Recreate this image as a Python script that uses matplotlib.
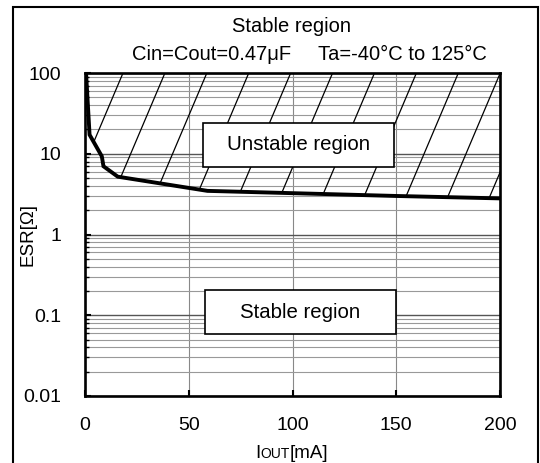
import numpy as np
import matplotlib
matplotlib.use('Agg')
from matplotlib import pyplot as plt
from matplotlib.patches import Rectangle
from matplotlib.offsetbox import TextArea, HPacker, AnnotationBbox
from matplotlib.ticker import LogLocator, NullFormatter

plt.rcParams['font.family'] = ['Liberation Sans', 'DejaVu Sans']

# boundary curve
iout = [0.5, 2.2, 8.1, 8.9, 15.8, 59.0, 100.0, 150.0, 200.0]
esr = [100.0, 17.2, 9.3, 7.0, 5.2, 3.47, 3.25, 3.0, 2.8]

x_ticks = [0, 50, 100, 150, 200]
y_ticks = [0.01, 0.1, 1, 10, 100]
y_labels = ['0.01', '0.1', '1', '10', '100']

W, H = 540, 463
fig = plt.figure(figsize=(W/100, H/100), dpi=100)
ax = fig.add_axes([85/W, 1-396/H, 415/W, 323/H])

ax.set_xlim(0, 200)
ax.set_yscale('log')
ax.set_ylim(0.01, 100)

ax.set_xticks(x_ticks)
ax.set_yticks(y_ticks)
ax.set_yticklabels(y_labels)
ax.yaxis.set_minor_locator(LogLocator(base=10, subs=np.arange(2, 10)))
ax.yaxis.set_minor_formatter(NullFormatter())
ax.tick_params(axis='both', which='major', direction='in', length=4, width=1.5, labelsize=14)
ax.tick_params(axis='x', which='major', pad=15)
ax.tick_params(axis='y', which='major', pad=17)
ax.tick_params(axis='y', which='minor', direction='in', length=3, width=1)
ax.tick_params(top=False, right=False)

ax.grid(True, which='major', axis='y', color='#555555', lw=1.0)
ax.grid(True, which='minor', axis='y', color='#999999', lw=0.8)
ax.grid(True, which='major', axis='x', color='#888888', lw=0.8)
for s in ax.spines.values():
    s.set_linewidth(1.9)
    s.set_zorder(5)

# unstable area above the curve, hatched with steep lines
poly = ax.fill_between(iout, esr, 100, facecolor='none', edgecolor='none')
clip = poly.get_paths()[0]
for x0 in np.arange(0.0916 - 0.202, 1.4, 0.101):
    ln, = ax.plot([x0, x0 - 0.33], [1, 0], transform=ax.transAxes, color='black', lw=0.9, zorder=2)
    ln.set_clip_path(clip, ax.transData)

ax.plot(iout, esr, color='black', lw=2.8, zorder=4, solid_joinstyle='miter')

# region labels in framed boxes
for (bx, by), label in [((203, 123), 'Unstable region'), ((205, 290), 'Stable region')]:
    fig.add_artist(Rectangle((bx/W, 1-(by+44)/H), 191/W, 44/H, transform=fig.transFigure,
                             facecolor='white', edgecolor='black', lw=1.2, zorder=6))
    fig.text((bx+95.5)/W, 1-(by+22)/H, label, ha='center', va='center', fontsize=14.7, zorder=7)

fig.text(291/W, 1-27/H, 'Stable region', ha='center', va='center', fontsize=14.5)
fig.text(212/W, 1-55/H, 'Cin=Cout=0.47μF', ha='center', va='center', fontsize=14.5)
fig.text(402/W, 1-55/H, 'Ta=-40°C to 125°C', ha='center', va='center', fontsize=14.5)

fig.text(28/W, 1-235/H, 'ESR[Ω]', ha='center', va='center', rotation=90, fontsize=13.5)

parts = HPacker(children=[TextArea('I', textprops=dict(fontsize=13.5)),
                          TextArea('OUT', textprops=dict(fontsize=10)),
                          TextArea('[mA]', textprops=dict(fontsize=13.5))],
                align='baseline', pad=0, sep=0)
ab = AnnotationBbox(parts, (292/W, 1-453/H), xycoords='figure fraction', frameon=False,
                    box_alignment=(0.5, 0.5), pad=0)
fig.add_artist(ab)

fig.add_artist(Rectangle((13/W, -0.1), 525/W, 1.1 - 7/H, transform=fig.transFigure,
                         facecolor='none', edgecolor='black', lw=1.5))

fig.savefig('out.png', dpi=100)
